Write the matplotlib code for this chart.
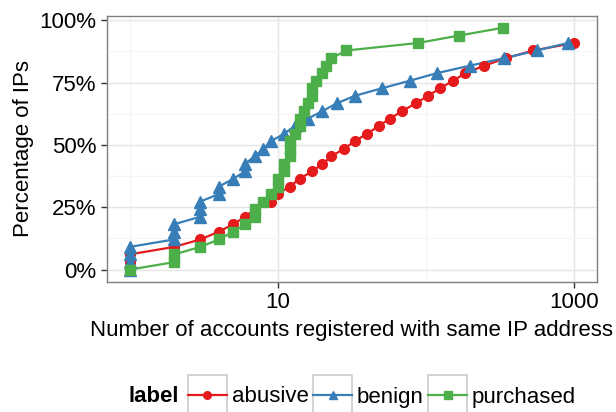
import numpy as np
import matplotlib
matplotlib.use("Agg")
from matplotlib import pyplot as plt
from matplotlib.legend_handler import HandlerLine2D
from matplotlib.patches import Rectangle
from matplotlib.ticker import FixedLocator, FuncFormatter

plt.rcParams['font.family'] = ['Liberation Sans', 'DejaVu Sans']

# data (x = accounts per IP, y = cumulative % of IPs)
abusive_x = [1, 1, 1, 2, 3, 4, 5, 6, 7, 9, 10, 12, 14, 17, 20, 23, 28, 33, 40, 48,
             57, 69, 85, 103, 124, 152, 184, 247, 344, 528, 1000]
abusive_y = [0.0, 3.0, 6.1, 9.1, 12.1, 15.2, 18.2, 21.2, 24.2, 27.3, 30.3, 33.3, 36.4,
             39.4, 42.4, 45.5, 48.5, 51.5, 54.5, 57.6, 60.6, 63.6, 66.7, 69.7, 72.7,
             75.8, 78.8, 81.8, 84.8, 87.9, 90.9]

benign_x = [1, 1, 1, 1, 2, 2, 2, 3, 3, 3, 4, 4, 5, 6, 6, 7, 8, 9, 11, 13, 16, 20, 25,
            33, 50, 78, 118, 197, 335, 557, 902]
benign_y = [0.0, 3.0, 6.1, 9.1, 12.1, 15.2, 18.2, 21.2, 24.2, 27.3, 30.3, 33.3, 36.4,
            39.4, 42.4, 45.5, 48.5, 51.5, 54.5, 57.6, 60.6, 63.6, 66.7, 69.7, 72.7,
            75.8, 78.8, 81.8, 84.8, 87.9, 90.9]

purchased_x = [1, 2, 2, 3, 4, 5, 6, 7, 7, 8, 9, 10, 10, 11, 11, 12, 12, 12, 13, 14, 14,
               15, 16, 17, 17, 18, 20, 21, 23, 29, 88, 167, 328]
purchased_y = [0.0, 3.0, 6.1, 9.1, 12.1, 15.2, 18.2, 21.2, 24.2, 27.3, 30.3, 33.3, 36.4,
               39.4, 42.4, 45.5, 48.5, 51.5, 54.5, 57.6, 60.6, 63.6, 66.7, 69.7, 72.7,
               75.8, 78.8, 81.8, 84.8, 87.9, 90.9, 93.9, 97.0]

labels = ["abusive", "benign", "purchased"]
colors = ["#E41A1C", "#377EB8", "#4DAF4A"]
markers = ["o", "^", "s"]
msizes = [7, 8.5, 7]

x_major = [10, 1000]
x_minor = [1, 100]
y_major = [0, 25, 50, 75, 100]
y_minor = [12.5, 37.5, 62.5, 87.5]

FS = 16

fig = plt.figure(figsize=(6.16, 4.12), dpi=100)
ax = fig.add_axes([107 / 616, 1 - 281.7 / 412, 490 / 616, 266 / 412])

series = [(abusive_x, abusive_y), (benign_x, benign_y), (purchased_x, purchased_y)]
handles = []
for (xs, ys), c in zip(series, colors):
    ax.plot(xs, ys, color=c, lw=1.6, zorder=2)
for (xs, ys), c, m, ms in zip(series, colors, markers, msizes):
    ax.plot(xs, ys, linestyle="none", marker=m, ms=ms, color=c, mec=c, zorder=3)
    h, = ax.plot([], [], color=c, lw=1.6, marker=m, ms=5.5, mec=c)
    handles.append(h)

ax.set_xscale("log")
ax.set_xlim(10 ** -0.152, 10 ** 3.152)
ax.set_ylim(-4.85, 101.85)

ax.xaxis.set_major_locator(FixedLocator(x_major))
ax.xaxis.set_minor_locator(FixedLocator(x_minor))
ax.xaxis.set_major_formatter(FuncFormatter(lambda v, p: "%d" % v))
ax.xaxis.set_minor_formatter(FuncFormatter(lambda v, p: ""))
ax.yaxis.set_major_locator(FixedLocator(y_major))
ax.yaxis.set_minor_locator(FixedLocator(y_minor))
ax.yaxis.set_major_formatter(FuncFormatter(lambda v, p: "%d%%" % v))

ax.grid(which="major", color="#e5e5e5", lw=1.0, zorder=0)
ax.grid(which="minor", color="#f5f5f5", lw=0.8, zorder=0)
ax.set_axisbelow(True)
ax.tick_params(which="major", length=4.5, width=1.0, color="#333333",
               labelsize=FS, labelcolor="black", pad=3)
ax.tick_params(which="minor", length=0)
for s in ax.spines.values():
    s.set_color("#7f7f7f")
    s.set_linewidth(1.0)

ax.set_xlabel("Number of accounts registered with same IP address", fontsize=FS, labelpad=5)
ax.set_ylabel("Percentage of IPs", fontsize=FS, labelpad=4)


class BoxedHandler(HandlerLine2D):
    # ggplot-style legend key: line+marker inside a grey-bordered box
    def create_artists(self, legend, orig_handle, xdescent, ydescent, width, height,
                       fontsize, trans):
        arts = super().create_artists(legend, orig_handle, xdescent, ydescent,
                                      width, height, fontsize, trans)
        bh = 28
        cy = -ydescent + height / 2
        box = Rectangle((-xdescent, cy - bh / 2), width, bh, facecolor="white",
                        edgecolor="#cccccc", lw=1.2, transform=trans)
        return [box] + arts


leg = fig.legend(handles, labels, loc="center left", ncol=3,
                 bbox_to_anchor=(188 / 616, 1 - 397 / 412), frameon=False,
                 fontsize=FS, handlelength=1.75, handletextpad=0.22,
                 columnspacing=0.2, borderpad=0, borderaxespad=0,
                 handler_map={h: BoxedHandler(numpoints=1) for h in handles})
fig.text(128 / 616, 1 - 397 / 412, "label", fontsize=FS, fontweight="bold",
         ha="left", va="center")

fig.savefig("out.png", dpi=100)
